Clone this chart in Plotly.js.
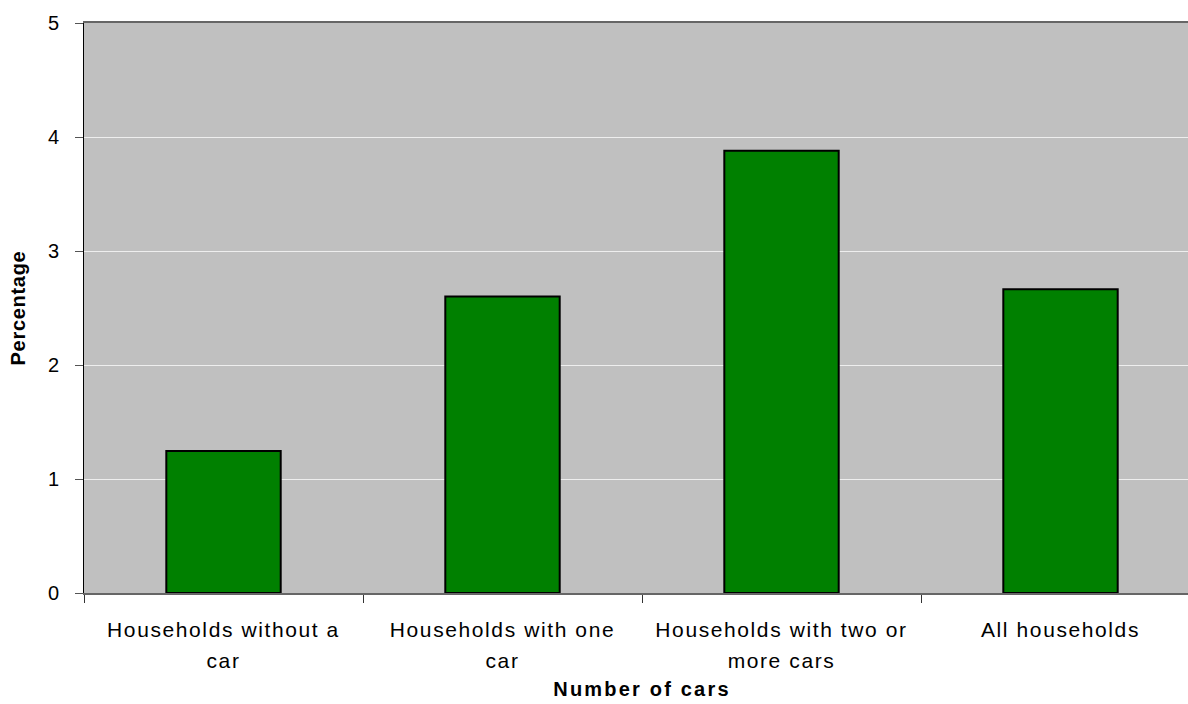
<!DOCTYPE html>
<html>
<head>
<meta charset="utf-8">
<script src="https://cdn.plot.ly/plotly-3.0.1.min.js"></script>
<style>
html,body{margin:0;padding:0;overflow:hidden;background:#fff;}
#chart{width:1200px;height:704px;}
#chart .xtick text{letter-spacing:1.6px;}
#chart .g-xtitle text{letter-spacing:2.2px;}
#chart .g-ytitle text{letter-spacing:0.7px;}
</style>
</head>
<body>
<div id="chart"></div>
<script>
const categories = [
  "Households without a<br>car",
  "Households with one<br>car",
  "Households with two or<br>more cars",
  "All households"
];
const percentages = [1.245, 2.6, 3.88, 2.665];
const yTicks = [0, 1, 2, 3, 4, 5];

const trace = {
  type: "bar",
  x: categories,
  y: percentages,
  marker: {color: "#008000", line: {color: "#000000", width: 2}},
  hoverinfo: "x+y"
};

const layout = {
  width: 1200,
  height: 704,
  margin: {l: 84, r: 0, t: 23, b: 111},
  paper_bgcolor: "#ffffff",
  plot_bgcolor: "#c0c0c0",
  bargap: 0.59,
  showlegend: false,
  font: {family: "Liberation Sans, Arial, sans-serif", color: "#000000", size: 20},
  xaxis: {
    type: "category",
    tickson: "boundaries",
    ticks: "outside",
    ticklen: 8,
    tickcolor: "#333333",
    tickwidth: 1,
    showline: true,
    linecolor: "#666666",
    linewidth: 2,
    mirror: true,
    showgrid: false,
    ticklabelstandoff: 17,
    tickfont: {size: 21},
    title: {text: "<b>Number of cars</b>", font: {size: 20}, standoff: 14}
  },
  yaxis: {
    range: [0, 5],
    tickvals: yTicks,
    ticktext: yTicks.map(String),
    ticks: "outside",
    ticklen: 8,
    tickcolor: "#555555",
    tickwidth: 1,
    showline: true,
    linecolor: "#000000",
    linewidth: 1,
    showgrid: true,
    gridcolor: "#eeeeee",
    gridwidth: 1,
    zeroline: false,
    ticklabelstandoff: 12,
    tickfont: {size: 20},
    title: {text: "<b>Percentage</b>", font: {size: 20}, standoff: 16}
  }
};

Plotly.newPlot("chart", [trace], layout, {displayModeBar: false, staticPlot: true}).then(function () {
  document.querySelectorAll("#chart .xtick text tspan.line").forEach(function (t) {
    const dy = t.getAttribute("dy");
    if (dy && dy.endsWith("em")) {
      const v = parseFloat(dy);
      if (v > 0) t.setAttribute("dy", (v * 1.48 / 1.3) + "em");
    }
  });
});
</script>
</body>
</html>
